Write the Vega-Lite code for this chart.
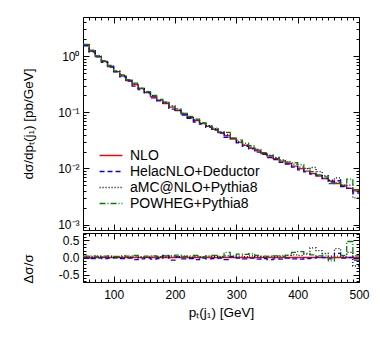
{
 "$schema": "https://vega.github.io/schema/vega-lite/v6.json",
 "padding": {"left": 20, "top": 16, "right": 5, "bottom": 5},
 "config": {
  "font": "Liberation Sans",
  "view": {"stroke": "#000", "strokeWidth": 1},
  "axis": {"labelColor": "#000", "titleColor": "#000", "tickColor": "#000", "domain": false, "grid": false, "labelFontSize": 12, "titleFontSize": 13.5, "titleFontWeight": "normal", "labelOverlap": false, "labelFlush": false, "labelBound": false, "labelFont": "Liberation Sans", "titleFont": "Liberation Sans"}
 },
 "datasets": {
  "h": [
   {"s":"NLO","x":50,"v":1.567,"r":0},{"s":"NLO","x":60,"v":1.227,"r":0},{"s":"NLO","x":70,"v":0.980,"r":0},{"s":"NLO","x":80,"v":0.798,"r":0},{"s":"NLO","x":90,"v":0.651,"r":0},{"s":"NLO","x":100,"v":0.531,"r":0},{"s":"NLO","x":110,"v":0.441,"r":0},{"s":"NLO","x":120,"v":0.367,"r":0},{"s":"NLO","x":130,"v":0.312,"r":0},{"s":"NLO","x":140,"v":0.2647,"r":0},{"s":"NLO","x":150,"v":0.2247,"r":0},{"s":"NLO","x":160,"v":0.1909,"r":0},{"s":"NLO","x":170,"v":0.1654,"r":0},{"s":"NLO","x":180,"v":0.1433,"r":0},{"s":"NLO","x":190,"v":0.1242,"r":0},{"s":"NLO","x":200,"v":0.1076,"r":0},{"s":"NLO","x":210,"v":0.0933,"r":0},{"s":"NLO","x":220,"v":0.0808,"r":0},{"s":"NLO","x":230,"v":0.0715,"r":0},{"s":"NLO","x":240,"v":0.0633,"r":0},{"s":"NLO","x":250,"v":0.0560,"r":0},{"s":"NLO","x":260,"v":0.0495,"r":0},{"s":"NLO","x":270,"v":0.0436,"r":0},{"s":"NLO","x":280,"v":0.0383,"r":0},{"s":"NLO","x":290,"v":0.0333,"r":0},{"s":"NLO","x":300,"v":0.0292,"r":0},{"s":"NLO","x":310,"v":0.0258,"r":0},{"s":"NLO","x":320,"v":0.0229,"r":0},{"s":"NLO","x":330,"v":0.0206,"r":0},{"s":"NLO","x":340,"v":0.0184,"r":0},{"s":"NLO","x":350,"v":0.0166,"r":0},{"s":"NLO","x":360,"v":0.0150,"r":0},{"s":"NLO","x":370,"v":0.01353,"r":0},{"s":"NLO","x":380,"v":0.01222,"r":0},{"s":"NLO","x":390,"v":0.01103,"r":0},{"s":"NLO","x":400,"v":0.00996,"r":0},{"s":"NLO","x":410,"v":0.00899,"r":0},{"s":"NLO","x":420,"v":0.00812,"r":0},{"s":"NLO","x":430,"v":0.00733,"r":0},{"s":"NLO","x":440,"v":0.00662,"r":0},{"s":"NLO","x":450,"v":0.00597,"r":0},{"s":"NLO","x":460,"v":0.00539,"r":0},{"s":"NLO","x":470,"v":0.00487,"r":0},{"s":"NLO","x":480,"v":0.00440,"r":0},{"s":"NLO","x":490,"v":0.00397,"r":0},{"s":"NLO","x":500,"v":0.00397,"r":0},

   {"s":"HelacNLO+Deductor","x":50,"v":1.536,"r":-0.02},{"s":"HelacNLO+Deductor","x":60,"v":1.190,"r":-0.03},{"s":"HelacNLO+Deductor","x":70,"v":0.970,"r":-0.01},{"s":"HelacNLO+Deductor","x":80,"v":0.774,"r":-0.03},{"s":"HelacNLO+Deductor","x":90,"v":0.638,"r":-0.02},{"s":"HelacNLO+Deductor","x":100,"v":0.526,"r":-0.01},{"s":"HelacNLO+Deductor","x":110,"v":0.428,"r":-0.03},{"s":"HelacNLO+Deductor","x":120,"v":0.360,"r":-0.02},{"s":"HelacNLO+Deductor","x":130,"v":0.293,"r":-0.06},{"s":"HelacNLO+Deductor","x":140,"v":0.2541,"r":-0.04},{"s":"HelacNLO+Deductor","x":150,"v":0.2225,"r":-0.01},{"s":"HelacNLO+Deductor","x":160,"v":0.1814,"r":-0.05},{"s":"HelacNLO+Deductor","x":170,"v":0.1604,"r":-0.03},{"s":"HelacNLO+Deductor","x":180,"v":0.1519,"r":0.06},{"s":"HelacNLO+Deductor","x":190,"v":0.1143,"r":-0.08},{"s":"HelacNLO+Deductor","x":200,"v":0.1098,"r":0.02},{"s":"HelacNLO+Deductor","x":210,"v":0.0896,"r":-0.04},{"s":"HelacNLO+Deductor","x":220,"v":0.0784,"r":-0.03},{"s":"HelacNLO+Deductor","x":230,"v":0.0672,"r":-0.06},{"s":"HelacNLO+Deductor","x":240,"v":0.0620,"r":-0.02},{"s":"HelacNLO+Deductor","x":250,"v":0.0538,"r":-0.04},{"s":"HelacNLO+Deductor","x":260,"v":0.0480,"r":-0.03},{"s":"HelacNLO+Deductor","x":270,"v":0.0427,"r":-0.02},{"s":"HelacNLO+Deductor","x":280,"v":0.0360,"r":-0.06},{"s":"HelacNLO+Deductor","x":290,"v":0.0343,"r":0.03},{"s":"HelacNLO+Deductor","x":300,"v":0.0286,"r":-0.02},{"s":"HelacNLO+Deductor","x":310,"v":0.0248,"r":-0.04},{"s":"HelacNLO+Deductor","x":320,"v":0.0224,"r":-0.02},{"s":"HelacNLO+Deductor","x":330,"v":0.0196,"r":-0.05},{"s":"HelacNLO+Deductor","x":340,"v":0.01785,"r":-0.03},{"s":"HelacNLO+Deductor","x":350,"v":0.01560,"r":-0.06},{"s":"HelacNLO+Deductor","x":360,"v":0.01440,"r":-0.04},{"s":"HelacNLO+Deductor","x":370,"v":0.01285,"r":-0.05},{"s":"HelacNLO+Deductor","x":380,"v":0.01198,"r":-0.02},{"s":"HelacNLO+Deductor","x":390,"v":0.01059,"r":-0.04},{"s":"HelacNLO+Deductor","x":400,"v":0.00946,"r":-0.05},{"s":"HelacNLO+Deductor","x":410,"v":0.00872,"r":-0.03},{"s":"HelacNLO+Deductor","x":420,"v":0.00796,"r":-0.02},{"s":"HelacNLO+Deductor","x":430,"v":0.00748,"r":0.02},{"s":"HelacNLO+Deductor","x":440,"v":0.00662,"r":0.0},{"s":"HelacNLO+Deductor","x":450,"v":0.00573,"r":-0.04},{"s":"HelacNLO+Deductor","x":460,"v":0.00604,"r":0.12},{"s":"HelacNLO+Deductor","x":470,"v":0.00477,"r":-0.02},{"s":"HelacNLO+Deductor","x":480,"v":0.00440,"r":0.0},{"s":"HelacNLO+Deductor","x":490,"v":0.00365,"r":-0.08},{"s":"HelacNLO+Deductor","x":500,"v":0.00365,"r":-0.08},

   {"s":"aMC@NLO+Pythia8","x":50,"v":1.614,"r":0.03},{"s":"aMC@NLO+Pythia8","x":60,"v":1.252,"r":0.02},{"s":"aMC@NLO+Pythia8","x":70,"v":1.019,"r":0.04},{"s":"aMC@NLO+Pythia8","x":80,"v":0.814,"r":0.02},{"s":"aMC@NLO+Pythia8","x":90,"v":0.671,"r":0.03},{"s":"aMC@NLO+Pythia8","x":100,"v":0.536,"r":0.01},{"s":"aMC@NLO+Pythia8","x":110,"v":0.454,"r":0.03},{"s":"aMC@NLO+Pythia8","x":120,"v":0.374,"r":0.02},{"s":"aMC@NLO+Pythia8","x":130,"v":0.324,"r":0.04},{"s":"aMC@NLO+Pythia8","x":140,"v":0.2673,"r":0.01},{"s":"aMC@NLO+Pythia8","x":150,"v":0.2292,"r":0.02},{"s":"aMC@NLO+Pythia8","x":160,"v":0.1985,"r":0.04},{"s":"aMC@NLO+Pythia8","x":170,"v":0.1687,"r":0.02},{"s":"aMC@NLO+Pythia8","x":180,"v":0.1476,"r":0.03},{"s":"aMC@NLO+Pythia8","x":190,"v":0.1304,"r":0.05},{"s":"aMC@NLO+Pythia8","x":200,"v":0.1098,"r":0.02},{"s":"aMC@NLO+Pythia8","x":210,"v":0.0970,"r":0.04},{"s":"aMC@NLO+Pythia8","x":220,"v":0.0816,"r":0.01},{"s":"aMC@NLO+Pythia8","x":230,"v":0.0736,"r":0.03},{"s":"aMC@NLO+Pythia8","x":240,"v":0.0646,"r":0.02},{"s":"aMC@NLO+Pythia8","x":250,"v":0.0582,"r":0.04},{"s":"aMC@NLO+Pythia8","x":260,"v":0.0510,"r":0.03},{"s":"aMC@NLO+Pythia8","x":270,"v":0.0445,"r":0.02},{"s":"aMC@NLO+Pythia8","x":280,"v":0.0402,"r":0.05},{"s":"aMC@NLO+Pythia8","x":290,"v":0.0343,"r":0.03},{"s":"aMC@NLO+Pythia8","x":300,"v":0.0304,"r":0.04},{"s":"aMC@NLO+Pythia8","x":310,"v":0.0263,"r":0.02},{"s":"aMC@NLO+Pythia8","x":320,"v":0.0240,"r":0.05},{"s":"aMC@NLO+Pythia8","x":330,"v":0.0212,"r":0.03},{"s":"aMC@NLO+Pythia8","x":340,"v":0.01877,"r":0.02},{"s":"aMC@NLO+Pythia8","x":350,"v":0.01726,"r":0.04},{"s":"aMC@NLO+Pythia8","x":360,"v":0.01545,"r":0.03},{"s":"aMC@NLO+Pythia8","x":370,"v":0.01421,"r":0.05},{"s":"aMC@NLO+Pythia8","x":380,"v":0.01308,"r":0.07},{"s":"aMC@NLO+Pythia8","x":390,"v":0.01191,"r":0.08},{"s":"aMC@NLO+Pythia8","x":400,"v":0.01056,"r":0.06},{"s":"aMC@NLO+Pythia8","x":410,"v":0.00989,"r":0.10},{"s":"aMC@NLO+Pythia8","x":420,"v":0.01039,"r":0.28},{"s":"aMC@NLO+Pythia8","x":430,"v":0.00880,"r":0.20},{"s":"aMC@NLO+Pythia8","x":440,"v":0.00741,"r":0.12},{"s":"aMC@NLO+Pythia8","x":450,"v":0.00621,"r":0.04},{"s":"aMC@NLO+Pythia8","x":460,"v":0.00679,"r":0.26},{"s":"aMC@NLO+Pythia8","x":470,"v":0.00502,"r":0.03},{"s":"aMC@NLO+Pythia8","x":480,"v":0.00506,"r":0.15},{"s":"aMC@NLO+Pythia8","x":490,"v":0.00298,"r":-0.25},{"s":"aMC@NLO+Pythia8","x":500,"v":0.00298,"r":-0.25},

   {"s":"POWHEG+Pythia8","x":50,"v":1.630,"r":0.04},{"s":"POWHEG+Pythia8","x":60,"v":1.288,"r":0.05},{"s":"POWHEG+Pythia8","x":70,"v":1.009,"r":0.03},{"s":"POWHEG+Pythia8","x":80,"v":0.830,"r":0.04},{"s":"POWHEG+Pythia8","x":90,"v":0.684,"r":0.05},{"s":"POWHEG+Pythia8","x":100,"v":0.547,"r":0.03},{"s":"POWHEG+Pythia8","x":110,"v":0.463,"r":0.05},{"s":"POWHEG+Pythia8","x":120,"v":0.382,"r":0.04},{"s":"POWHEG+Pythia8","x":130,"v":0.331,"r":0.06},{"s":"POWHEG+Pythia8","x":140,"v":0.2700,"r":0.02},{"s":"POWHEG+Pythia8","x":150,"v":0.2337,"r":0.04},{"s":"POWHEG+Pythia8","x":160,"v":0.2004,"r":0.05},{"s":"POWHEG+Pythia8","x":170,"v":0.1704,"r":0.03},{"s":"POWHEG+Pythia8","x":180,"v":0.1505,"r":0.05},{"s":"POWHEG+Pythia8","x":190,"v":0.1292,"r":0.04},{"s":"POWHEG+Pythia8","x":200,"v":0.1151,"r":0.07},{"s":"POWHEG+Pythia8","x":210,"v":0.0961,"r":0.03},{"s":"POWHEG+Pythia8","x":220,"v":0.0848,"r":0.05},{"s":"POWHEG+Pythia8","x":230,"v":0.0758,"r":0.06},{"s":"POWHEG+Pythia8","x":240,"v":0.0646,"r":0.02},{"s":"POWHEG+Pythia8","x":250,"v":0.0582,"r":0.04},{"s":"POWHEG+Pythia8","x":260,"v":0.0525,"r":0.06},{"s":"POWHEG+Pythia8","x":270,"v":0.0449,"r":0.03},{"s":"POWHEG+Pythia8","x":280,"v":0.0440,"r":0.15},{"s":"POWHEG+Pythia8","x":290,"v":0.0346,"r":0.04},{"s":"POWHEG+Pythia8","x":300,"v":0.0321,"r":0.10},{"s":"POWHEG+Pythia8","x":310,"v":0.0281,"r":0.09},{"s":"POWHEG+Pythia8","x":320,"v":0.0254,"r":0.11},{"s":"POWHEG+Pythia8","x":330,"v":0.0218,"r":0.06},{"s":"POWHEG+Pythia8","x":340,"v":0.01914,"r":0.04},{"s":"POWHEG+Pythia8","x":350,"v":0.01693,"r":0.02},{"s":"POWHEG+Pythia8","x":360,"v":0.01575,"r":0.05},{"s":"POWHEG+Pythia8","x":370,"v":0.01394,"r":0.03},{"s":"POWHEG+Pythia8","x":380,"v":0.01295,"r":0.06},{"s":"POWHEG+Pythia8","x":390,"v":0.01268,"r":0.15},{"s":"POWHEG+Pythia8","x":400,"v":0.01165,"r":0.17},{"s":"POWHEG+Pythia8","x":410,"v":0.01007,"r":0.12},{"s":"POWHEG+Pythia8","x":420,"v":0.00877,"r":0.08},{"s":"POWHEG+Pythia8","x":430,"v":0.00770,"r":0.05},{"s":"POWHEG+Pythia8","x":440,"v":0.00708,"r":0.07},{"s":"POWHEG+Pythia8","x":450,"v":0.00537,"r":-0.10},{"s":"POWHEG+Pythia8","x":460,"v":0.00561,"r":0.04},{"s":"POWHEG+Pythia8","x":470,"v":0.00516,"r":0.06},{"s":"POWHEG+Pythia8","x":480,"v":0.00647,"r":0.47},{"s":"POWHEG+Pythia8","x":490,"v":0.00417,"r":0.05},{"s":"POWHEG+Pythia8","x":500,"v":0.00417,"r":0.05}
  ]
 },
 "spacing": 3,
 "bounds": "flush",
 "resolve": {"scale": {"color": "independent", "strokeDash": "independent"}},
 "vconcat": [
  {
   "width": 276,
   "height": 213,
   "layer": [
    {
     "data": {"name": "h"},
     "mark": {"type": "line", "interpolate": "step-after", "strokeWidth": 1.3, "clip": true},
     "encoding": {
      "x": {"field": "x", "type": "quantitative", "scale": {"domain": [50, 500], "nice": false, "zero": false},
            "axis": {"orient": "bottom", "values": [50,60,70,80,90,100,110,120,130,140,150,160,170,180,190,200,210,220,230,240,250,260,270,280,290,300,310,320,330,340,350,360,370,380,390,400,410,420,430,440,450,460,470,480,490,500], "labels": false, "title": null,
                     "tickSize": {"condition": {"test": "datum.value % 100 === 0", "value": -6}, "value": -3}}},
      "y": {"field": "v", "type": "quantitative", "scale": {"type": "log", "domain": [0.0008, 5], "nice": false},
            "axis": {"orient": "left", "values": [0.0009,0.001,0.002,0.003,0.004,0.005,0.006,0.007,0.008,0.009,0.01,0.02,0.03,0.04,0.05,0.06,0.07,0.08,0.09,0.1,0.2,0.3,0.4,0.5,0.6,0.7,0.8,0.9,1,2,3,4], "labels": false, "title": null,
                     "tickSize": {"condition": {"test": "datum.value == 1 || datum.value == 0.1 || datum.value == 0.01 || datum.value == 0.001", "value": -6}, "value": -3}}},
      "color": {"field": "s", "type": "nominal",
                "scale": {"domain": ["NLO", "HelacNLO+Deductor", "aMC@NLO+Pythia8", "POWHEG+Pythia8"], "range": ["#ff0000", "#0000ff", "#000000", "#008000"]},
                "legend": {"orient": "none", "legendX": 21, "legendY": 131.5, "title": null, "symbolType": "M-5,0H5", "symbolSize": 21, "symbolStrokeWidth": 1.3, "labelFontSize": 14, "labelOffset": 12, "rowPadding": 2, "padding": 0, "labelColor": "#000", "labelFont": "Liberation Sans"}},
      "strokeDash": {"field": "s", "type": "nominal",
                "scale": {"domain": ["NLO", "HelacNLO+Deductor", "aMC@NLO+Pythia8", "POWHEG+Pythia8"], "range": [[1, 0], [5, 3], [1, 2], [6, 2, 1, 2]]},
                "legend": {"orient": "none", "legendX": 21, "legendY": 131.5, "title": null, "symbolType": "M-5,0H5", "symbolSize": 21, "symbolStrokeWidth": 1.3, "labelFontSize": 14, "labelOffset": 12, "rowPadding": 2, "padding": 0, "labelColor": "#000", "labelFont": "Liberation Sans"}}
     }
    },
    {
     "mark": {"type": "text", "text": "pp → tt̄j + X", "align": "left", "baseline": "middle", "fontSize": 14, "font": "Liberation Sans"},
     "encoding": {
      "x": {"datum": 348.4, "type": "quantitative",
            "axis": {"orient": "top", "values": [50,60,70,80,90,100,110,120,130,140,150,160,170,180,190,200,210,220,230,240,250,260,270,280,290,300,310,320,330,340,350,360,370,380,390,400,410,420,430,440,450,460,470,480,490,500], "labels": false, "title": null,
                     "tickSize": {"condition": {"test": "datum.value % 100 === 0", "value": -6}, "value": -3}}},
      "y": {"datum": 2.59, "type": "quantitative",
            "axis": {"orient": "right", "values": [0.0009,0.001,0.002,0.003,0.004,0.005,0.006,0.007,0.008,0.009,0.01,0.02,0.03,0.04,0.05,0.06,0.07,0.08,0.09,0.1,0.2,0.3,0.4,0.5,0.6,0.7,0.8,0.9,1,2,3,4], "labels": false, "title": null,
                     "tickSize": {"condition": {"test": "datum.value == 1 || datum.value == 0.1 || datum.value == 0.01 || datum.value == 0.001", "value": -6}, "value": -3}}}
     }
    },
    {
     "mark": {"type": "text", "text": "LHC at 8 TeV", "align": "left", "baseline": "middle", "fontSize": 14, "font": "Liberation Sans"},
     "encoding": {
      "x": {"datum": 348.4, "type": "quantitative", "axis": null},
      "y": {"datum": 1.345, "type": "quantitative",
            "axis": {"orient": "left", "values": [0.001, 0.01, 0.1, 1], "ticks": false, "labelPadding": 4,
                     "labelExpr": "datum.value == 1 ? '10⁰' : datum.value == 0.1 ? '10⁻¹' : datum.value == 0.01 ? '10⁻²' : datum.value == 0.001 ? '10⁻³' : ''",
                     "title": "dσ/dpₜ(j₁) [pb/GeV]", "titleX": -48, "titleY": 106.5, "titleAlign": "center"}}
     }
    },
    {
     "mark": {"type": "text", "text": "μ", "align": "left", "baseline": "middle", "fontSize": 14, "font": "Liberation Sans"},
     "encoding": {"x": {"datum": 348.4, "type": "quantitative", "axis": null}, "y": {"datum": 0.757, "type": "quantitative", "axis": null}}
    },
    {
     "mark": {"type": "text", "text": "R,F", "align": "left", "baseline": "middle", "fontSize": 8.5, "dx": 7.5, "dy": 4, "font": "Liberation Sans"},
     "encoding": {"x": {"datum": 348.4, "type": "quantitative", "axis": null}, "y": {"datum": 0.757, "type": "quantitative", "axis": null}}
    },
    {
     "mark": {"type": "text", "text": "= m", "align": "left", "baseline": "middle", "fontSize": 14, "dx": 20, "font": "Liberation Sans"},
     "encoding": {"x": {"datum": 348.4, "type": "quantitative", "axis": null}, "y": {"datum": 0.757, "type": "quantitative", "axis": null}}
    },
    {
     "mark": {"type": "text", "text": "top", "align": "left", "baseline": "middle", "fontSize": 8.5, "dx": 43.5, "dy": 4, "font": "Liberation Sans"},
     "encoding": {"x": {"datum": 348.4, "type": "quantitative", "axis": null}, "y": {"datum": 0.757, "type": "quantitative", "axis": null}}
    }
   ],
   "resolve": {"axis": {"x": "independent", "y": "independent"}}
  },
  {
   "width": 276,
   "height": 49,
   "layer": [
    {
     "data": {"name": "h"},
     "transform": [{"filter": "datum.s === 'NLO'"}],
     "mark": {"type": "line", "interpolate": "step-after", "strokeWidth": 1.3, "clip": true},
     "encoding": {
      "x": {"field": "x", "type": "quantitative", "scale": {"domain": [50, 500], "nice": false, "zero": false},
            "axis": {"orient": "bottom", "values": [50,60,70,80,90,100,110,120,130,140,150,160,170,180,190,200,210,220,230,240,250,260,270,280,290,300,310,320,330,340,350,360,370,380,390,400,410,420,430,440,450,460,470,480,490,500], "labels": false, "title": null,
                     "tickSize": {"condition": {"test": "datum.value % 100 === 0", "value": -6}, "value": -3}}},
      "y": {"field": "r", "type": "quantitative", "scale": {"domain": [-0.72, 0.72], "nice": false, "zero": false},
            "axis": {"orient": "left", "values": [-0.7,-0.6,-0.5,-0.4,-0.3,-0.2,-0.1,0,0.1,0.2,0.3,0.4,0.5,0.6,0.7], "labels": false, "title": null,
                     "tickSize": {"condition": {"test": "datum.value == 0.5 || datum.value == 0 || datum.value == -0.5", "value": -6}, "value": -3}}},
      "color": {"field": "s", "type": "nominal", "scale": {"domain": ["NLO", "HelacNLO+Deductor", "aMC@NLO+Pythia8", "POWHEG+Pythia8"], "range": ["#ff0000", "#0000ff", "#000000", "#008000"]}, "legend": null},
      "strokeDash": {"field": "s", "type": "nominal", "scale": {"domain": ["NLO", "HelacNLO+Deductor", "aMC@NLO+Pythia8", "POWHEG+Pythia8"], "range": [[1, 0], [5, 3], [1, 2], [6, 2, 1, 2]]}, "legend": null}
     }
    },
    {
     "data": {"name": "h"},
     "transform": [{"filter": "datum.s === 'HelacNLO+Deductor'"}],
     "mark": {"type": "line", "interpolate": "step-after", "strokeWidth": 1.3, "clip": true},
     "encoding": {
      "x": {"field": "x", "type": "quantitative",
            "axis": {"orient": "top", "values": [50,60,70,80,90,100,110,120,130,140,150,160,170,180,190,200,210,220,230,240,250,260,270,280,290,300,310,320,330,340,350,360,370,380,390,400,410,420,430,440,450,460,470,480,490,500], "labels": false, "title": null,
                     "tickSize": {"condition": {"test": "datum.value % 100 === 0", "value": -6}, "value": -3}}},
      "y": {"field": "r", "type": "quantitative",
            "axis": {"orient": "right", "values": [-0.7,-0.6,-0.5,-0.4,-0.3,-0.2,-0.1,0,0.1,0.2,0.3,0.4,0.5,0.6,0.7], "labels": false, "title": null,
                     "tickSize": {"condition": {"test": "datum.value == 0.5 || datum.value == 0 || datum.value == -0.5", "value": -6}, "value": -3}}},
      "color": {"field": "s", "type": "nominal", "scale": {"domain": ["NLO", "HelacNLO+Deductor", "aMC@NLO+Pythia8", "POWHEG+Pythia8"], "range": ["#ff0000", "#0000ff", "#000000", "#008000"]}, "legend": null},
      "strokeDash": {"field": "s", "type": "nominal", "scale": {"domain": ["NLO", "HelacNLO+Deductor", "aMC@NLO+Pythia8", "POWHEG+Pythia8"], "range": [[1, 0], [5, 3], [1, 2], [6, 2, 1, 2]]}, "legend": null}
     }
    },
    {
     "data": {"name": "h"},
     "transform": [{"filter": "datum.s === 'aMC@NLO+Pythia8'"}],
     "mark": {"type": "line", "interpolate": "step-after", "strokeWidth": 1.3, "clip": true},
     "encoding": {
      "x": {"field": "x", "type": "quantitative",
            "axis": {"orient": "bottom", "values": [100, 200, 300, 400, 500], "ticks": false, "labelPadding": 7,
                     "title": "pₜ(j₁) [GeV]", "titleY": 23, "titleBaseline": "top"}},
      "y": {"field": "r", "type": "quantitative",
            "axis": {"orient": "left", "values": [-0.5, 0, 0.5], "ticks": false, "labelPadding": 4,
                     "labelExpr": "datum.value == 0.5 ? '0.5' : datum.value == 0 ? '0.0' : '-0.5'",
                     "title": "Δσ/σ", "titleX": -48, "titleY": 35.5, "titleAlign": "center"}},
      "color": {"field": "s", "type": "nominal", "scale": {"domain": ["NLO", "HelacNLO+Deductor", "aMC@NLO+Pythia8", "POWHEG+Pythia8"], "range": ["#ff0000", "#0000ff", "#000000", "#008000"]}, "legend": null},
      "strokeDash": {"field": "s", "type": "nominal", "scale": {"domain": ["NLO", "HelacNLO+Deductor", "aMC@NLO+Pythia8", "POWHEG+Pythia8"], "range": [[1, 0], [5, 3], [1, 2], [6, 2, 1, 2]]}, "legend": null}
     }
    },
    {
     "data": {"name": "h"},
     "transform": [{"filter": "datum.s === 'POWHEG+Pythia8'"}],
     "mark": {"type": "line", "interpolate": "step-after", "strokeWidth": 1.3, "clip": true},
     "encoding": {
      "x": {"field": "x", "type": "quantitative", "axis": null},
      "y": {"field": "r", "type": "quantitative", "axis": null},
      "color": {"field": "s", "type": "nominal", "scale": {"domain": ["NLO", "HelacNLO+Deductor", "aMC@NLO+Pythia8", "POWHEG+Pythia8"], "range": ["#ff0000", "#0000ff", "#000000", "#008000"]}, "legend": null},
      "strokeDash": {"field": "s", "type": "nominal", "scale": {"domain": ["NLO", "HelacNLO+Deductor", "aMC@NLO+Pythia8", "POWHEG+Pythia8"], "range": [[1, 0], [5, 3], [1, 2], [6, 2, 1, 2]]}, "legend": null}
     }
    }
   ],
   "resolve": {"axis": {"x": "independent", "y": "independent"}}
  }
 ]
}
